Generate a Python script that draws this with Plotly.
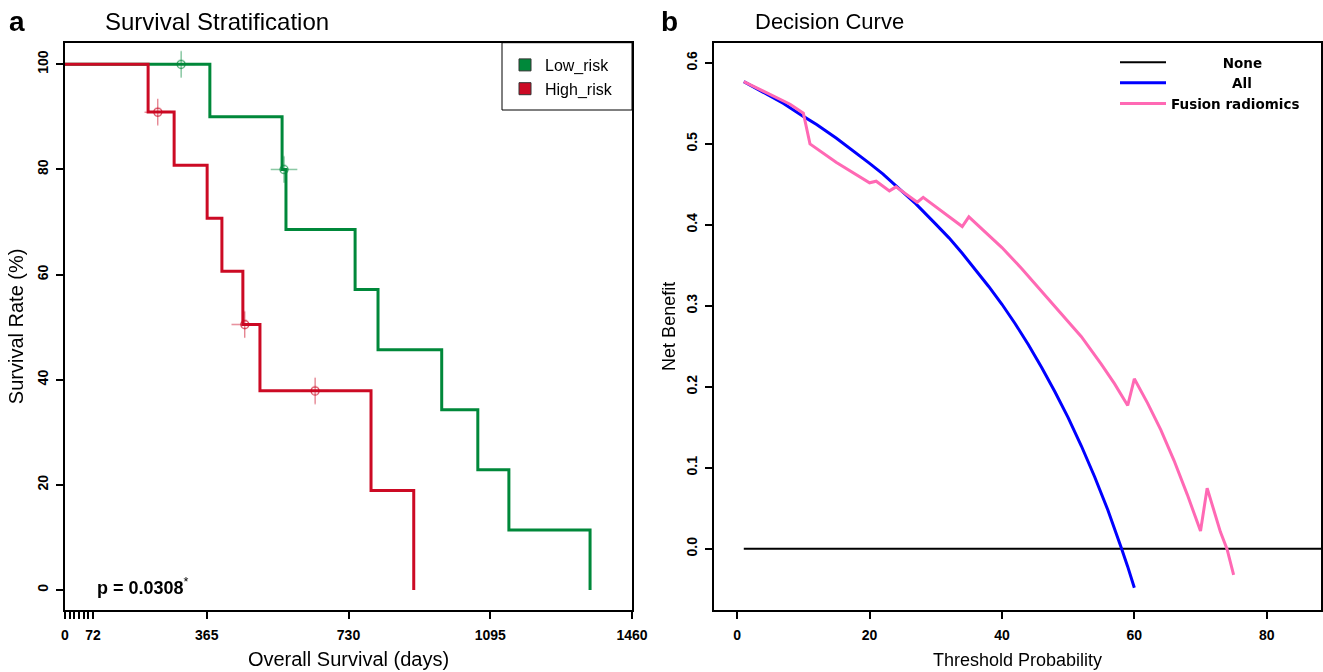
import plotly.graph_objects as go

# ---------------- Panel a: Kaplan-Meier data ----------------
low_days = [0, 373, 559, 569, 747, 806, 970, 1063, 1143, 1352]
low_surv = [100, 90, 80, 68.57, 57.14, 45.71, 34.29, 22.86, 11.43, 0]
low_cens_days = [299, 564]
low_cens_surv = [100, 80]

high_days = [0, 214, 281, 366, 404, 458, 502, 788, 898]
high_surv = [100, 90.91, 80.81, 70.71, 60.61, 50.51, 37.88, 18.94, 0]
high_cens_days = [239, 463, 644]
high_cens_surv = [90.91, 50.51, 37.88]

left_xtick_vals = [0, 72, 365, 730, 1095, 1460]
left_xminor_vals = [12, 24, 36, 48, 60]
left_ytick_vals = [0, 20, 40, 60, 80, 100]

# ---------------- Panel b: decision curve data ----------------
thr_none = [1, 99]
nb_none = [0, 0]

thr_all = [1, 3, 5, 7, 10, 12, 15, 17, 20, 22, 25, 27, 30, 32, 34, 36, 38, 40,
           42, 44, 46, 48, 50, 52, 54, 56, 57, 58, 59, 60]
nb_all = [0.577, 0.568, 0.559, 0.550, 0.534, 0.524, 0.507, 0.495, 0.476, 0.463,
          0.441, 0.426, 0.401, 0.384, 0.365, 0.345, 0.324, 0.302, 0.278, 0.252,
          0.224, 0.194, 0.162, 0.127, 0.089, 0.048, 0.026, 0.002, -0.022, -0.048]

thr_fusion = [1, 5, 8, 10, 11, 15, 20, 21, 23, 24, 27.2, 28.1, 34, 35, 37, 40, 43,
              46, 49, 52, 55, 57, 59, 60, 62, 64, 66, 68, 70, 71, 73, 74, 75]
nb_fusion = [0.577, 0.561, 0.549, 0.538, 0.500, 0.477, 0.452, 0.454, 0.442, 0.447,
             0.428, 0.434, 0.398, 0.410, 0.395, 0.372, 0.346, 0.318, 0.290, 0.262,
             0.228, 0.204, 0.177, 0.210, 0.180, 0.147, 0.109, 0.067, 0.022, 0.075,
             0.021, 0.000, -0.032]

right_xtick_vals = [0, 20, 40, 60, 80]
right_ytick_vals = [0.0, 0.1, 0.2, 0.3, 0.4, 0.5, 0.6]

GREEN = "#00883A"
RED = "#CC0A24"
BLUE = "#0000FF"
PINK = "#FF69B4"
FONT = "Arial, Liberation Sans, sans-serif"
WIDE = "DejaVu Sans, Arial, sans-serif"

fig = go.Figure()

# KM step curves
fig.add_trace(go.Scatter(x=low_days, y=low_surv, mode="lines", line=dict(shape="hv", color=GREEN, width=3),
                         showlegend=False, xaxis="x", yaxis="y"))
fig.add_trace(go.Scatter(x=high_days, y=high_surv, mode="lines", line=dict(shape="hv", color=RED, width=3),
                         showlegend=False, xaxis="x", yaxis="y"))
# censor marks
for cd, cs, col in [(low_cens_days, low_cens_surv, GREEN), (high_cens_days, high_cens_surv, RED)]:
    fig.add_trace(go.Scatter(x=cd, y=cs, mode="markers",
                             marker=dict(symbol="cross-thin-open", size=19, color=col,
                                         line=dict(color=col, width=1)),
                             opacity=0.7, showlegend=False, xaxis="x", yaxis="y"))
    fig.add_trace(go.Scatter(x=cd, y=cs, mode="markers",
                             marker=dict(symbol="circle-open", size=8, color=col,
                                         line=dict(color=col, width=1.3)),
                             opacity=0.8, showlegend=False, xaxis="x", yaxis="y"))
# legend entries for panel a
fig.add_trace(go.Scatter(x=[None], y=[None], mode="markers", name="Low_risk",
                         marker=dict(symbol="square", size=12, color=GREEN, line=dict(color="#333333", width=1)),
                         legend="legend", xaxis="x", yaxis="y"))
fig.add_trace(go.Scatter(x=[None], y=[None], mode="markers", name="High_risk",
                         marker=dict(symbol="square", size=12, color=RED, line=dict(color="#333333", width=1)),
                         legend="legend", xaxis="x", yaxis="y"))

# decision curves
pad = "\u00a0"
fig.add_trace(go.Scatter(x=thr_none, y=nb_none, mode="lines", line=dict(color="black", width=2),
                         name="<b>" + pad * 11 + "None</b>", legend="legend2", xaxis="x2", yaxis="y2"))
fig.add_trace(go.Scatter(x=thr_all, y=nb_all, mode="lines", line=dict(color=BLUE, width=3),
                         name="<b>" + pad * 13 + "All</b>", legend="legend2", xaxis="x2", yaxis="y2"))
fig.add_trace(go.Scatter(x=thr_fusion, y=nb_fusion, mode="lines", line=dict(color=PINK, width=3),
                         name="<b>Fusion radiomics</b>", legend="legend2", xaxis="x2", yaxis="y2"))

W, H = 1323, 672
ydom = [1 - 610 / H, 1 - 42.7 / H]

axis_common = dict(showline=True, linecolor="black", linewidth=2, mirror=True, showgrid=False,
                   zeroline=False, ticks="outside", ticklen=7, tickwidth=1.5, tickcolor="black",
                   automargin=False,
                   tickfont=dict(family=FONT, size=14, color="black", weight="bold"))

fig.update_layout(
    width=W, height=H, margin=dict(l=0, r=0, t=0, b=0, autoexpand=False),
    paper_bgcolor="white", plot_bgcolor="white",
    font=dict(family=FONT, color="black"),
    xaxis=dict(domain=[65 / W, 632 / W], range=[0, 1460], tickmode="array",
               tickvals=left_xtick_vals, anchor="y", ticklabelstandoff=4,
               minor=dict(tickmode="array", tickvals=left_xminor_vals, ticks="outside", ticklen=7,
                          tickwidth=1.5, tickcolor="black", showgrid=False),
               title=dict(text="Overall Survival (days)", font=dict(size=20, family=FONT), standoff=10),
               **axis_common),
    yaxis=dict(domain=ydom, range=[-3.8, 104.1], tickmode="array", tickvals=left_ytick_vals,
               tickangle=-90, anchor="x", ticklabelstandoff=2,
               title=dict(text="Survival Rate (%)", font=dict(size=20, family=FONT), standoff=6),
               **axis_common),
    xaxis2=dict(domain=[714 / W, 1321 / W], range=[-3.5, 88.2], tickmode="array",
                tickvals=right_xtick_vals, anchor="y2", ticklabelstandoff=4,
                title=dict(text="Threshold Probability", font=dict(size=18, family=FONT), standoff=12),
                **axis_common),
    yaxis2=dict(domain=ydom, range=[-0.0755, 0.625], tickmode="array", tickvals=right_ytick_vals,
                tickformat=".1f", tickangle=-90, anchor="x2", ticklabelstandoff=2,
                title=dict(text="Net Benefit", font=dict(size=18, family=FONT), standoff=4),
                **axis_common),
    legend=dict(x=505 / W, y=1 - 48 / H, xanchor="left", yanchor="top", bgcolor="rgba(0,0,0,0)",
                borderwidth=0, font=dict(family=FONT, size=16, color="black"), itemwidth=30,
                tracegroupgap=0),
    legend2=dict(x=1115 / W, y=1 - 47 / H, xanchor="left", yanchor="top", bgcolor="rgba(0,0,0,0)",
                 borderwidth=0, font=dict(family=WIDE, size=13.5, color="black"), itemwidth=46),
    shapes=[dict(type="rect", xref="x domain", yref="y domain", x0=(502 - 65) / 567, x1=1,
                 y0=(610 - 110) / 567.3, y1=1, line=dict(color="black", width=1), fillcolor="rgba(0,0,0,0)")],
    annotations=[
        dict(text="<b>a</b>", x=7 / W, y=1 - 22 / H, xref="paper", yref="paper", xanchor="left",
             yanchor="middle", showarrow=False, font=dict(size=28, family=FONT)),
        dict(text="Survival Stratification", x=103 / W, y=1 - 22 / H, xref="paper", yref="paper",
             xanchor="left", yanchor="middle", showarrow=False, font=dict(size=24, family=FONT)),
        dict(text="<b>b</b>", x=659 / W, y=1 - 22 / H, xref="paper", yref="paper", xanchor="left",
             yanchor="middle", showarrow=False, font=dict(size=28, family=FONT)),
        dict(text="Decision Curve", x=753 / W, y=1 - 22 / H, xref="paper", yref="paper",
             xanchor="left", yanchor="middle", showarrow=False, font=dict(size=22, family=FONT)),
        dict(text="<b>p = 0.0308</b><sup>*</sup>", x=95 / W, y=1 - 586 / H, xref="paper", yref="paper",
             xanchor="left", yanchor="middle", showarrow=False, font=dict(size=18, family=FONT)),
    ],
)

fig.write_html("out.html", config={"displayModeBar": False},
               post_script="document.body.style.margin='0px';document.body.style.overflow='hidden';")
